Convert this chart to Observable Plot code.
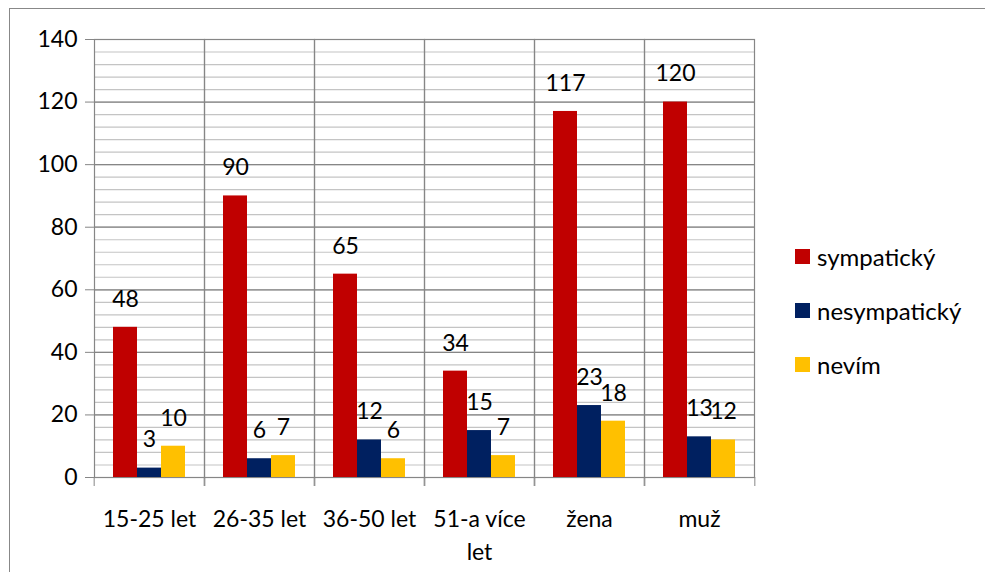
<!DOCTYPE html>
<html>
<head>
<meta charset="utf-8">
<script src="https://cdn.jsdelivr.net/npm/d3@7"></script>
<script src="https://cdn.jsdelivr.net/npm/@observablehq/plot@0.6"></script>
<style>
  html, body { margin: 0; padding: 0; background: #fff; overflow: hidden; }
  #wrap { position: relative; width: 985px; height: 572px; }
  #border { position: absolute; left: 9px; top: 8px; width: 1000px; height: 620px; border: 1px solid #888; box-sizing: border-box; }
  #chart { position: absolute; left: 0; top: 0; }
  #legend { position: absolute; left: 795px; top: 0; font-family: Lato, sans-serif; font-size: 24px; color: #000; }
  .item { position: absolute; left: 0; white-space: nowrap; display: flex; align-items: center; height: 30px; }
  .sw { width: 15px; height: 15px; margin-right: 7px; }
</style>
</head>
<body>
<div id="wrap">
  <div id="border"></div>
  <div id="chart"></div>
  <div id="legend"></div>
</div>
<script>
const categories = ["15-25 let", "26-35 let", "36-50 let", "51-a více let", "žena", "muž"];
const series = ["sympatický", "nesympatický", "nevím"];
const sympaticky = [48, 90, 65, 34, 117, 120];
const nesympaticky = [3, 6, 12, 15, 23, 13];
const nevim = [10, 7, 6, 7, 18, 12];
const colors = ["#C00000", "#002060", "#FFC000"];
const yTicks = [0, 20, 40, 60, 80, 100, 120, 140];
const minorTicks = d3.range(0, 141, 4);

const seriesValues = [sympaticky, nesympaticky, nevim];
const data = [];
categories.forEach((c, i) => {
  series.forEach((s, j) => data.push({category: c, series: s, value: seriesValues[j][i]}));
});

const W = 985, H = 572, mL = 92, mR = 229, mT = 39, mB = 95;
const bw = (W - mL - mR) / categories.length;
const gridMajor = "#868686", gridMinor = "#c4c4c4";

const chart = Plot.plot({
  width: W, height: H,
  marginLeft: mL, marginRight: mR, marginTop: mT, marginBottom: mB,
  style: {fontFamily: "Lato, sans-serif", fontSize: "23px", color: "#000", background: "transparent"},
  fx: {domain: categories, padding: 0, label: null},
  x: {domain: series, paddingInner: 0, paddingOuter: 0.76, axis: null},
  y: {domain: [0, 140], axis: null},
  color: {domain: series, range: colors},
  marks: [
    Plot.ruleY(minorTicks, {stroke: gridMinor, strokeWidth: 1.2}),
    Plot.ruleY(yTicks, {stroke: gridMajor, strokeWidth: 1.2}),
    Plot.frame({stroke: gridMajor, strokeWidth: 1.2}),
    Plot.barY(data, {fx: "category", x: "series", y: "value", fill: "series"}),
    Plot.text(data, {fx: "category", x: "series", y: "value", text: d => String(d.value), dy: -28, fill: "#000"}),
    Plot.axisY({ticks: yTicks, tickSize: 9, tickPadding: 8, stroke: gridMajor, fill: "#000", label: null}),
    Plot.axisFx({anchor: "bottom", tickSize: 0, tickPadding: 26, lineWidth: 5, lineHeight: 1.43, label: null, fill: "#000"}),
    Plot.axisFx({anchor: "bottom", tickSize: 9, fill: "none", stroke: gridMajor, dx: -bw / 2, label: null}),
    Plot.axisFx(categories.slice(-1), {anchor: "bottom", tickSize: 9, fill: "none", stroke: gridMajor, dx: bw / 2, label: null})
  ]
});
document.getElementById("chart").appendChild(chart);

const legend = document.getElementById("legend");
const legendTops = [241, 295, 349];
series.forEach((s, i) => {
  const item = document.createElement("div");
  item.className = "item";
  item.style.top = legendTops[i] + "px";
  const sw = document.createElement("div");
  sw.className = "sw";
  sw.style.background = colors[i];
  const t = document.createElement("span");
  t.textContent = s;
  item.appendChild(sw);
  item.appendChild(t);
  legend.appendChild(item);
});
</script>
</body>
</html>
